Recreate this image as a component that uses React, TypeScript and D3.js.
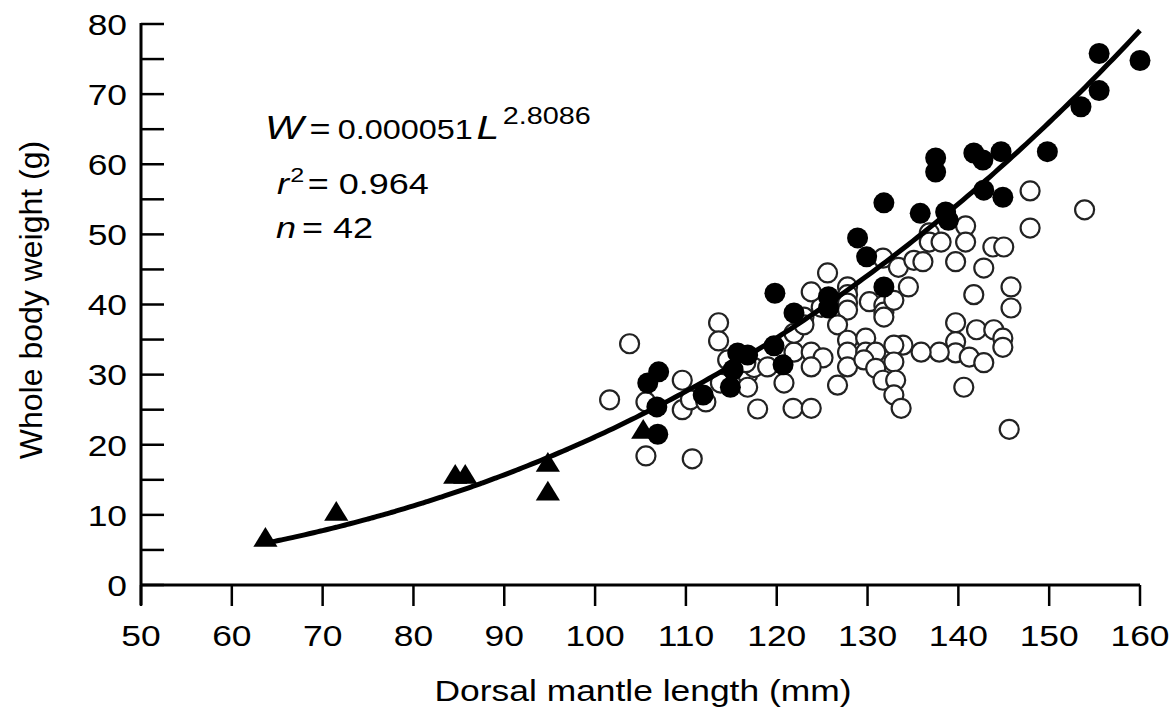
import React from "react";
import * as d3 from "d3";

// Open circles: [length mm, weight g]
const openLength = [101.6,103.8,105.6,105.6,110.7,109.6,109.6,110.5,112.2,113.6,113.6,114.6,113.8,116.8,116.8,117.5,117.9,116.6,119.0,120.8,121.9,123.8,125.1,123.8,121.8,123.8,126.7,121.9,123.0,123.0,124.9,123.8,125.6,127.8,127.8,127.8,127.8,126.7,127.8,129.8,127.8,129.8,130.9,127.8,129.6,130.9,130.2,131.8,131.8,131.8,131.7,133.4,132.9,134.5,135.1,136.1,136.8,136.8,138.1,140.8,140.8,139.7,142.8,143.8,145.0,147.9,147.9,153.9,141.7,145.8,145.8,139.7,142.0,143.9,144.9,144.9,139.7,139.7,141.2,142.8,137.9,135.9,133.9,132.9,132.9,131.7,133.1,132.9,133.7,140.6,145.6];
const openWeight = [26.4,34.4,26.1,18.4,18.0,29.2,25.0,26.4,26.1,37.4,34.8,32.1,28.8,30.0,28.2,31.0,25.1,31.7,31.1,28.8,33.2,33.2,32.4,31.1,25.2,25.2,28.5,35.9,38.2,37.1,39.6,41.8,44.5,42.5,41.4,40.2,39.2,37.1,34.9,35.2,33.2,33.2,33.2,31.1,32.1,30.9,40.4,39.9,38.9,38.2,46.6,45.3,40.6,42.5,46.3,46.1,50.2,48.9,48.9,51.2,48.9,46.1,45.2,48.2,48.2,56.2,50.9,53.5,41.4,42.5,39.5,37.4,36.4,36.4,35.2,33.9,34.7,33.1,32.5,31.7,33.2,33.2,34.2,34.2,31.8,29.2,29.2,27.1,25.2,28.2,22.2];

// Filled circles
const filledLength = [107.0,105.8,106.8,106.9,111.9,114.9,115.2,115.7,116.8,119.8,121.9,119.7,120.7,125.7,125.7,128.9,129.9,131.8,131.8,135.8,138.6,138.9,137.5,137.5,141.7,142.7,144.7,149.8,142.8,144.9,153.5,155.5,155.5,160.0];
const filledWeight = [30.4,28.8,25.4,21.5,27.1,28.2,30.7,33.1,32.8,41.6,38.8,34.1,31.4,41.1,39.5,49.5,46.8,42.5,54.5,53.0,53.2,52.0,60.9,58.9,61.6,60.6,61.8,61.8,56.3,55.3,68.2,75.8,70.5,74.8];

// Triangles
const triLength = [63.7,71.5,84.6,85.7,94.8,94.8,105.3];
const triWeight = [6.7,10.4,15.7,15.7,17.4,13.3,22.1];

const xTicks = [50,60,70,80,90,100,110,120,130,140,150,160];
const yTicks = [0,10,20,30,40,50,60,70,80];
const yMinor = [5,15,25,35,45,55,65,75];

const coefA = 0.000051;
const coefB = 2.8086;
const curveL = d3.range(64, 160.01, 0.5);

const W = 1174, H = 711;
const x = d3.scaleLinear().domain([50, 160]).range([141, 1140]);
const y = d3.scaleLinear().domain([0, 80]).range([585, 24]);

const font = "'Liberation Sans', Arial, Helvetica, sans-serif";
const SX = 1.18;

export default function App() {
  const line = d3.line<number>().x(l => x(l)).y(l => y(coefA * Math.pow(l, coefB))).curve(d3.curveBasis);
  const triPath = (cx: number, cy: number) => {
    const s = 11;
    return `M${cx},${cy - s} L${cx + s * 1.1},${cy + s * 0.8} L${cx - s * 1.1},${cy + s * 0.8} Z`;
  };
  return (
    <svg width={W} height={H} style={{ position: "absolute", left: 0, top: 0, background: "#fff" }} fontFamily={font}>
      <rect x={0} y={0} width={W} height={H} fill="#fff" />
      {/* axes */}
      <line x1={x(50)} x2={x(50)} y1={y(80) - 1} y2={605} stroke="#000" strokeWidth={3} />
      <line x1={x(50)} x2={x(160)} y1={y(0)} y2={y(0)} stroke="#000" strokeWidth={3} />
      {yTicks.concat(yMinor).map(t => (
        <line key={"yt" + t} x1={x(50)} x2={x(50) + 23} y1={y(t)} y2={y(t)} stroke="#000" strokeWidth={2.5} />
      ))}
      {xTicks.map(t => (
        <line key={"xt" + t} x1={x(t)} x2={x(t)} y1={y(0)} y2={y(0) + 21} stroke="#000" strokeWidth={2.5} />
      ))}
      {yTicks.map(t => (
        <g key={"yl" + t} transform={`translate(127,${y(t)}) scale(${SX},1)`}>
          <text x={0} y={0} dy="0.36em" textAnchor="end" fontSize={30} fill="#000">{t}</text>
        </g>
      ))}
      {xTicks.map(t => (
        <g key={"xl" + t} transform={`translate(${x(t)},646) scale(${SX},1)`}>
          <text x={0} y={0} textAnchor="middle" fontSize={30} fill="#000">{t}</text>
        </g>
      ))}
      <g transform={`translate(643,701) scale(${SX},1)`}>
        <text x={0} y={0} textAnchor="middle" fontSize={30} fill="#000">Dorsal mantle length (mm)</text>
      </g>
      <text transform={`translate(42,300) rotate(-90)`} textAnchor="middle" fontSize={32} fill="#000">Whole body weight (g)</text>

      {/* annotation */}
      <g transform="translate(265,139) scale(1.2,1)">
        <text x={0} y={0} fontSize={27} fill="#000">
          <tspan fontStyle="italic" fontSize={34}>W</tspan>
          <tspan dx={5} fontSize={30}>=</tspan>
          <tspan dx={6}>0.000051</tspan>
          <tspan dx={3} fontStyle="italic" fontSize={34}>L</tspan>
          <tspan dx={3} dy={-15} fontSize={24}>2.8086</tspan>
        </text>
      </g>
      <g transform="translate(277,194) scale(1.2,1)">
        <text x={0} y={0} fontSize={30} fill="#000">
          <tspan fontStyle="italic">r</tspan>
          <tspan dx={1} dy={-12} fontSize={21}>2</tspan>
          <tspan dy={12} dx={3}>= 0.964</tspan>
        </text>
      </g>
      <g transform="translate(276,238) scale(1.2,1)">
        <text x={0} y={0} fontSize={30} fill="#000">
          <tspan fontStyle="italic">n</tspan>
          <tspan dx={5}>= 42</tspan>
        </text>
      </g>

      {/* open circles */}
      {openLength.map((l, i) => (
        <circle key={"o" + i} cx={x(l)} cy={y(openWeight[i])} r={9.5} fill="#fff" stroke="#222" strokeWidth={2.2} />
      ))}
      {/* fitted curve */}
      <path d={line(curveL) || ""} fill="none" stroke="#000" strokeWidth={5} />
      {/* filled circles */}
      {filledLength.map((l, i) => (
        <circle key={"f" + i} cx={x(l)} cy={y(filledWeight[i])} r={10.5} fill="#000" />
      ))}
      {triLength.map((l, i) => (
        <path key={"t" + i} d={triPath(x(l), y(triWeight[i]))} fill="#000" />
      ))}
    </svg>
  );
}
